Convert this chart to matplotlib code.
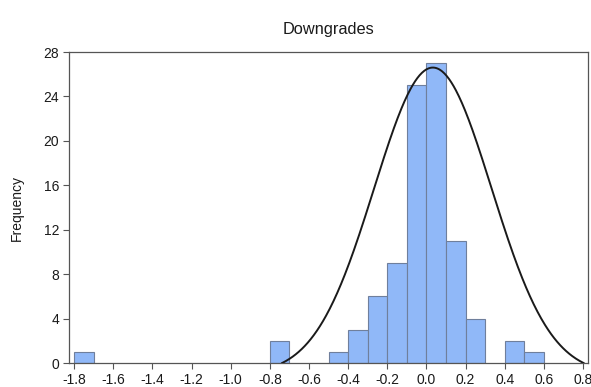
import numpy as np
import matplotlib.pyplot as plt

# histogram bins (left edges, width 0.1) and counts
bin_left = [-1.8, -0.8, -0.5, -0.4, -0.3, -0.2, -0.1, 0.0, 0.1, 0.2, 0.4, 0.5]
counts = [1, 2, 1, 3, 6, 9, 25, 27, 11, 4, 2, 1]
bin_width = 0.1

# fitted density curve
curve_mean = 0.033
curve_sd = 0.30
curve_peak = 26.6
curve_halfwidth = 0.77

xticks = [-1.8, -1.6, -1.4, -1.2, -1.0, -0.8, -0.6, -0.4, -0.2, 0.0, 0.2, 0.4, 0.6, 0.8]
yticks = [0, 4, 8, 12, 16, 20, 24, 28]


def main():
    plt.rcParams['font.family'] = ['Liberation Sans', 'DejaVu Sans']
    fig = plt.figure(figsize=(5.91, 3.87), dpi=100)
    ax = fig.add_axes([0.1168, 0.062, 0.8782, 0.8036])

    ax.bar(bin_left, counts, width=bin_width, align='edge',
           color='#90b8f8', edgecolor='#6f7f9c', linewidth=0.8, zorder=2)

    # bell curve truncated so that it meets the axis at both ends
    xs = np.linspace(curve_mean - curve_halfwidth, curve_mean + curve_halfwidth, 400)
    bell = np.exp(-0.5 * ((xs - curve_mean) / curve_sd) ** 2)
    base = np.exp(-0.5 * (curve_halfwidth / curve_sd) ** 2)
    ys = curve_peak * (bell - base) / (1 - base)
    ax.plot(xs, ys, color='#1a1a1a', linewidth=1.4, zorder=3)

    ax.set_xlim(-1.826, 0.826)
    ax.set_ylim(0, 28)
    ax.set_xticks(xticks)
    ax.set_xticklabels([f"{t:.1f}" for t in xticks])
    ax.set_yticks(yticks)
    ax.tick_params(axis='both', direction='out', length=4, width=0.8,
                   color='#555555', labelsize=10, labelcolor='#1a1a1a', pad=3)
    for side in ax.spines.values():
        side.set_color('#555555')
        side.set_linewidth(0.9)

    ax.set_ylabel('Frequency', fontsize=10, color='#1a1a1a', labelpad=14)
    ax.set_title('Downgrades', fontsize=11.8, color='#1a1a1a', pad=13)

    fig.savefig('out.png', dpi=100)


if __name__ == '__main__':
    main()
